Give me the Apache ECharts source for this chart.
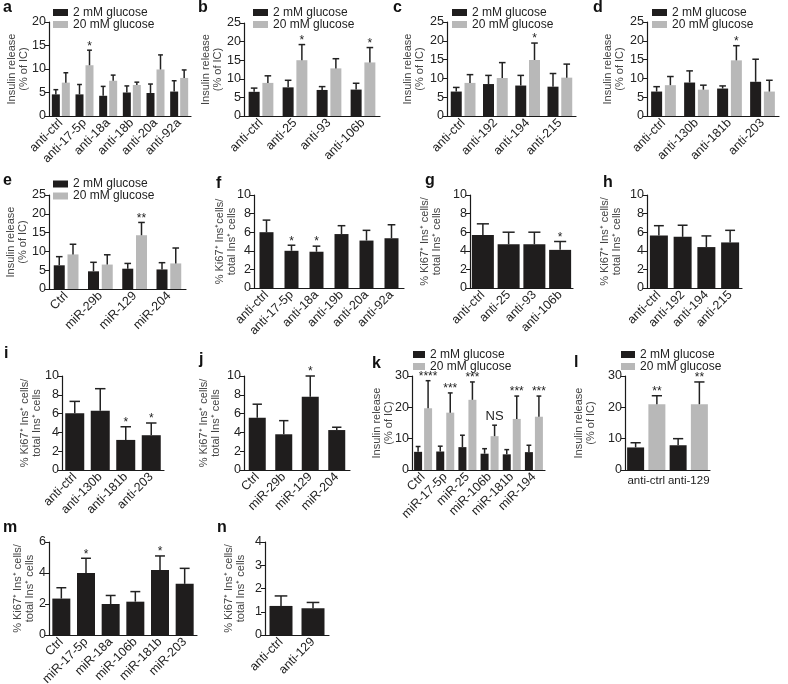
<!DOCTYPE html>
<html>
<head>
<meta charset="utf-8">
<title>Insulin release / Ki67 panels</title>
<script src="https://cdn.jsdelivr.net/npm/echarts/dist/echarts.min.js"></script>
<style>
  html, body { margin: 0; padding: 0; background: #fff; }
  #chart { width: 788px; height: 684px; }
</style>
</head>
<body>
<div id="chart"></div>
<script>
const LOW = '2 mM glucose';
const HIGH = '20 mM glucose';

// a
const catsA = ['anti-ctrl', 'anti-17-5p', 'anti-18a', 'anti-18b', 'anti-20a', 'anti-92a'];
const lowA = [4.6, 4.6, 4.3, 5.0, 4.9, 5.2];
const lowErrA = [5.6, 6.7, 6.3, 6.4, 6.8, 7.5];
const highA = [7.1, 10.8, 7.5, 6.6, 9.9, 8.1];
const highErrA = [9.2, 14.0, 8.7, 7.2, 13.0, 9.8];
const sigA = ['', '*', '', '', '', ''];
// b
const catsB = ['anti-ctrl', 'anti-25', 'anti-93', 'anti-106b'];
const lowB = [6.5, 7.7, 7.0, 7.1];
const lowErrB = [7.5, 9.6, 7.9, 8.8];
const highB = [8.9, 15.0, 12.8, 14.4];
const highErrB = [10.8, 19.2, 15.4, 18.4];
const sigB = ['', '*', '', '*'];
// c
const catsC = ['anti-ctrl', 'anti-192', 'anti-194', 'anti-215'];
const lowC = [6.5, 8.5, 8.1, 7.8];
const lowErrC = [7.6, 10.8, 10.8, 11.3];
const highC = [8.8, 10.1, 14.9, 10.2];
const highErrC = [11.0, 14.2, 19.4, 13.8];
const sigC = ['', '', '*', ''];
// d
const catsD = ['anti-ctrl', 'anti-130b', 'anti-181b', 'anti-203'];
const lowD = [6.5, 8.9, 7.3, 9.1];
const lowErrD = [7.8, 12.0, 8.0, 15.1];
const highD = [8.2, 7.0, 14.8, 6.5];
const highErrD = [10.5, 8.2, 18.7, 9.5];
const sigD = ['', '', '*', ''];
// e
const catsE = ['Ctrl', 'miR-29b', 'miR-129', 'miR-204'];
const lowE = [6.3, 4.7, 5.4, 5.2];
const lowErrE = [8.6, 7.1, 6.8, 7.0];
const highE = [9.2, 6.5, 14.3, 6.8];
const highErrE = [11.9, 9.1, 17.7, 10.9];
const sigE = ['', '', '**', ''];
// f
const catsF = ['anti-ctrl', 'anti-17-5p', 'anti-18a', 'anti-19b', 'anti-20a', 'anti-92a'];
const valsF = [6.0, 4.0, 3.9, 5.8, 5.1, 5.35];
const errF = [7.3, 4.6, 4.5, 6.7, 6.2, 6.8];
const sigF = ['', '*', '*', '', '', ''];
// g
const catsG = ['anti-ctrl', 'anti-25', 'anti-93', 'anti-106b'];
const valsG = [5.7, 4.7, 4.7, 4.1];
const errG = [6.9, 6.0, 6.0, 5.0];
const sigG = ['', '', '', '*'];
// h
const catsH = ['anti-ctrl', 'anti-192', 'anti-194', 'anti-215'];
const valsH = [5.65, 5.5, 4.4, 4.9];
const errH = [6.7, 6.75, 5.6, 6.2];
const sigH = ['', '', '', ''];
// i
const catsI = ['anti-ctrl', 'anti-130b', 'anti-181b', 'anti-203'];
const valsI = [6.05, 6.3, 3.2, 3.7];
const errI = [7.3, 8.65, 4.6, 5.0];
const sigI = ['', '', '*', '*'];
// j
const catsJ = ['Ctrl', 'miR-29b', 'miR-129', 'miR-204'];
const valsJ = [5.55, 3.8, 7.8, 4.25];
const errJ = [7.0, 5.25, 10.0, 4.55];
const sigJ = ['', '', '*', ''];
// k
const catsK = ['Ctrl', 'miR-17-5p', 'miR-25', 'miR-106b', 'miR-181b', 'miR-194'];
const lowK = [5.8, 5.9, 7.3, 5.2, 5.0, 5.7];
const lowErrK = [7.5, 7.6, 11.1, 6.8, 6.5, 7.9];
const highK = [19.7, 18.3, 22.4, 10.8, 16.3, 17.0];
const highErrK = [28.5, 24.6, 28.1, 14.3, 23.6, 23.6];
const sigK = ['****', '***', '***', 'NS', '***', '***'];
// l
const catsL = ['anti-ctrl', 'anti-129'];
const lowL = [7.2, 7.9];
const lowErrL = [8.7, 10.0];
const highL = [21.0, 21.0];
const highErrL = [23.7, 28.1];
const sigL = ['**', '**'];
// m
const catsM = ['Ctrl', 'miR-17-5p', 'miR-18a', 'miR-106b', 'miR-181b', 'miR-203'];
const valsM = [2.35, 4.0, 2.0, 2.15, 4.2, 3.3];
const errM = [3.05, 4.95, 2.55, 2.8, 5.1, 4.3];
const sigM = ['', '*', '', '', '*', ''];
// n
const catsN = ['anti-ctrl', 'anti-129'];
const valsN = [1.25, 1.15];
const errN = [1.68, 1.4];
const sigN = ['', ''];

const INS = 'Insulin release\n(% of IC)';
const KI = '% Ki67\u207A Ins\u207A cells/\ntotal Ins\u207A cells';
const KI_F = '% Ki67\u207A Ins\u207Acells/\ntotal Ins\u207A cells';

const BLACK = '#1f1d1d';
const GREY = '#b8b8b8';
const INK = '#1a1a1a';
const FONT = '"Liberation Sans", Arial, Helvetica, sans-serif';

const option = {
  animation: false,
  textStyle: { fontFamily: FONT },
  title: [], legend: [], grid: [], xAxis: [], yAxis: [], series: []
};

function addPanel(p) {
  const i = option.grid.length;
  option.grid.push({
    left: p.box[0], top: p.box[1], width: p.box[2], height: p.box[3],
    containLabel: false, outerBoundsMode: 'none'
  });
  option.xAxis.push({
    type: 'category', gridIndex: i, data: p.cats,
    axisLine: { lineStyle: { color: INK, width: 1.2 } },
    axisTick: { alignWithLabel: true, length: 3, lineStyle: { color: INK } },
    axisLabel: { interval: 0, rotate: p.rotate, fontSize: p.catFont || 12.5, color: '#222', margin: 5 }
  });
  option.yAxis.push({
    type: 'value', gridIndex: i, min: 0, max: p.yMax, interval: p.yInt,
    name: p.yName, nameLocation: 'middle', nameRotate: 90, nameGap: p.nameGap,
    nameMoveOverlap: false,
    nameTextStyle: { fontSize: 11, color: '#444', lineHeight: 12 },
    axisLine: { show: true, lineStyle: { color: INK, width: 1.2 } },
    axisTick: { show: true, length: 4, lineStyle: { color: INK } },
    splitLine: { show: false },
    axisLabel: { fontSize: 12.5, color: '#222', margin: 3 }
  });
  option.title.push({
    text: p.tag, left: p.tagPos[0], top: p.tagPos[1], padding: 0,
    textStyle: { fontSize: 16, fontWeight: 'bold', color: '#111', fontFamily: FONT }
  });
  if (p.legend) {
    option.legend.push({
      data: [LOW, HIGH], left: p.legend[0], top: p.legend[1], orient: 'vertical',
      padding: 0, itemGap: 0, itemWidth: p.legend[2], itemHeight: 7, icon: 'rect',
      selectedMode: false,
      textStyle: { fontSize: 12, color: '#222', lineHeight: 11 }
    });
  }
  return i;
}

// upward error bar + significance mark, placed on the category through the axis scale
function errorSeries(i, means, tops, marks, offset, capW) {
  return {
    type: 'custom', xAxisIndex: i, yAxisIndex: i, z: 5, silent: true,
    data: means.map((m, k) => [k, m, tops[k]]),
    renderItem(params, api) {
      const b = api.coord([api.value(0), api.value(1)]);
      const t = api.coord([api.value(0), api.value(2)]);
      const x = b[0] + offset;
      const lineStyle = { stroke: '#222', lineWidth: 1.5 };
      const kids = [
        { type: 'line', shape: { x1: x, y1: b[1], x2: x, y2: t[1] }, style: lineStyle },
        { type: 'line', shape: { x1: x - capW / 2, y1: t[1], x2: x + capW / 2, y2: t[1] }, style: lineStyle }
      ];
      const s = marks ? marks[params.dataIndex] : '';
      if (s) {
        const ns = s === 'NS';
        kids.push({
          type: 'text',
          style: {
            text: s, x: x, y: ns ? t[1] - 2 : t[1] - 4,
            align: 'center', verticalAlign: ns ? 'bottom' : 'middle',
            textAlign: 'center', textVerticalAlign: ns ? 'bottom' : 'middle',
            fontSize: ns ? 13 : 12, fontFamily: FONT, fill: '#222'
          }
        });
      }
      return { type: 'group', children: kids };
    }
  };
}

function grouped(p, low, lowErr, high, highErr, sig) {
  const i = addPanel(p);
  const w = p.bw;
  const off = (w + w * 0.25) / 2;
  option.series.push(
    { type: 'bar', name: LOW, xAxisIndex: i, yAxisIndex: i, data: low, barWidth: w, barGap: '25%',
      itemStyle: { color: BLACK } },
    { type: 'bar', name: HIGH, xAxisIndex: i, yAxisIndex: i, data: high, barWidth: w, barGap: '25%',
      itemStyle: { color: GREY } },
    errorSeries(i, low, lowErr, null, -off, w * 0.6),
    errorSeries(i, high, highErr, sig, off, w * 0.6)
  );
}

function single(p, vals, errs, sig) {
  const i = addPanel(p);
  option.series.push(
    { type: 'bar', name: 'Ki67 ' + p.tag, xAxisIndex: i, yAxisIndex: i, data: vals, barWidth: p.bw,
      itemStyle: { color: BLACK } },
    errorSeries(i, vals, errs, sig, 0, p.bw * 0.55)
  );
}

grouped({ tag: 'a', tagPos: [3, 0], box: [49, 22, 142, 94], yMax: 20, yInt: 5, yName: INS, nameGap: 19,
  cats: catsA, rotate: 45, bw: 8, legend: [53, 6.5, 15] }, lowA, lowErrA, highA, highErrA, sigA);
grouped({ tag: 'b', tagPos: [198, 0], box: [244, 23, 136, 93], yMax: 25, yInt: 5, yName: INS, nameGap: 20,
  cats: catsB, rotate: 45, bw: 11, legend: [253, 6.5, 15] }, lowB, lowErrB, highB, highErrB, sigB);
grouped({ tag: 'c', tagPos: [393, 0], box: [447, 22, 129, 94], yMax: 25, yInt: 5, yName: INS, nameGap: 21,
  cats: catsC, rotate: 45, bw: 11, legend: [452, 6.5, 15] }, lowC, lowErrC, highC, highErrC, sigC);
grouped({ tag: 'd', tagPos: [593, 0], box: [647, 22, 132, 94], yMax: 25, yInt: 5, yName: INS, nameGap: 21,
  cats: catsD, rotate: 45, bw: 11, legend: [652, 6.5, 15] }, lowD, lowErrD, highD, highErrD, sigD);
grouped({ tag: 'e', tagPos: [3, 173], box: [49, 195, 137, 94], yMax: 25, yInt: 5, yName: INS, nameGap: 20,
  cats: catsE, rotate: 45, bw: 11, legend: [53, 178, 15] }, lowE, lowErrE, highE, highErrE, sigE);
single({ tag: 'f', tagPos: [216, 176], box: [254, 195, 150, 93], yMax: 10, yInt: 2, yName: KI_F, nameGap: 16,
  cats: catsF, rotate: 45, bw: 14 }, valsF, errF, sigF);
single({ tag: 'g', tagPos: [425, 173], box: [470, 195, 103, 93], yMax: 10, yInt: 2, yName: KI, nameGap: 27,
  cats: catsG, rotate: 45, bw: 22 }, valsG, errG, sigG);
single({ tag: 'h', tagPos: [603, 175], box: [647, 195, 95, 93], yMax: 10, yInt: 2, yName: KI, nameGap: 24,
  cats: catsH, rotate: 45, bw: 18 }, valsH, errH, sigH);
single({ tag: 'i', tagPos: [4, 346], box: [62, 376, 102, 94], yMax: 10, yInt: 2, yName: KI, nameGap: 19,
  cats: catsI, rotate: 45, bw: 19 }, valsI, errI, sigI);
single({ tag: 'j', tagPos: [199, 352], box: [244, 376, 106, 94], yMax: 10, yInt: 2, yName: KI, nameGap: 22,
  cats: catsJ, rotate: 45, bw: 17 }, valsJ, errJ, sigJ);
grouped({ tag: 'k', tagPos: [372, 356], box: [412, 376, 133, 94], yMax: 30, yInt: 10, yName: INS, nameGap: 17,
  cats: catsK, rotate: 45, bw: 8, legend: [413, 348.5, 12] }, lowK, lowErrK, highK, highErrK, sigK);
grouped({ tag: 'l', tagPos: [574, 355], box: [625, 376, 85, 94], yMax: 30, yInt: 10, yName: INS, nameGap: 28,
  cats: catsL, rotate: 0, bw: 17, catFont: 11.5, legend: [621, 348.5, 14] }, lowL, lowErrL, highL, highErrL, sigL);
single({ tag: 'm', tagPos: [3, 520], box: [49, 542, 148, 93], yMax: 6, yInt: 2, yName: KI, nameGap: 13,
  cats: catsM, rotate: 45, bw: 18 }, valsM, errM, sigM);
single({ tag: 'n', tagPos: [217, 520], box: [265, 542, 64, 93], yMax: 4, yInt: 1, yName: KI, nameGap: 18,
  cats: catsN, rotate: 45, bw: 23 }, valsN, errN, sigN);

const chart = echarts.init(document.getElementById('chart'), null, { renderer: 'canvas' });
chart.setOption(option);
</script>
</body>
</html>
